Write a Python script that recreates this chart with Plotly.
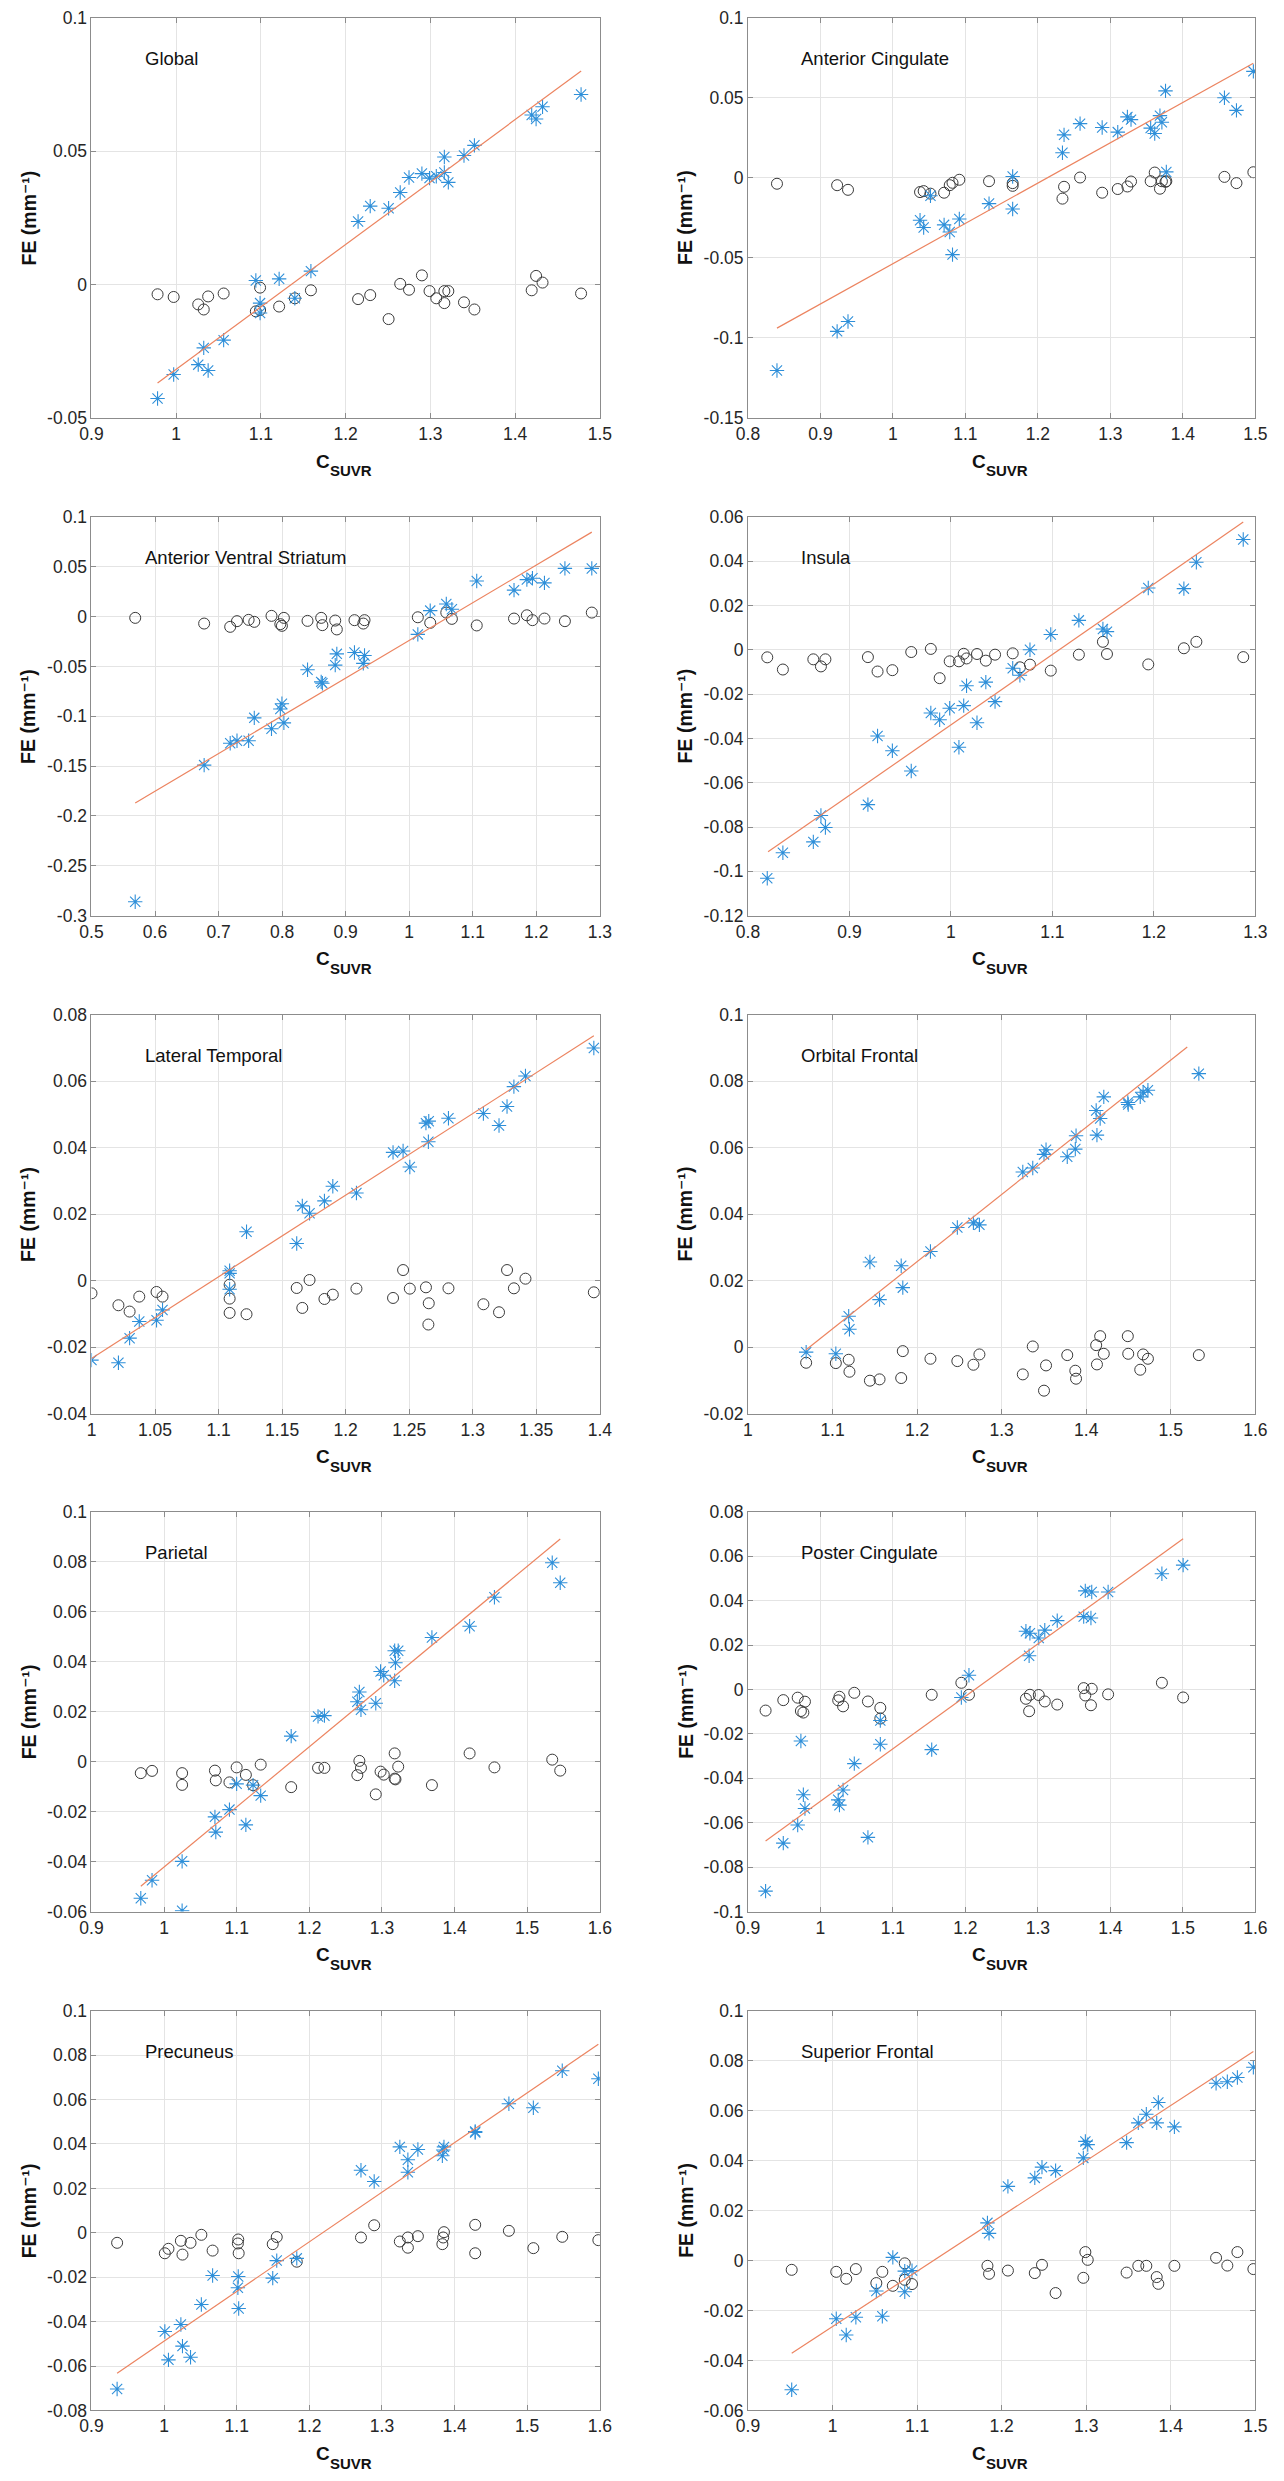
import plotly.graph_objects as go

# ---------------- data ----------------
regions = ["Global", "Anterior Cingulate", "Anterior Ventral Striatum", "Insula",
           "Lateral Temporal", "Orbital Frontal", "Parietal", "Poster Cingulate",
           "Precuneus", "Superior Frontal"]

# Global
global_c = [0.978, 0.997, 1.026, 1.0325, 1.0377, 1.056, 1.094, 1.099, 1.099, 1.1215, 1.140, 1.159, 1.2147, 1.229, 1.2507,
            1.2644, 1.2748, 1.290, 1.299, 1.307, 1.3165, 1.3165, 1.3212, 1.3397, 1.352, 1.4196, 1.4248, 1.4324, 1.4779]
global_fe = [-0.0428, -0.0338, -0.0301, -0.0238, -0.0323, -0.0209, 0.0015, -0.0070, -0.0107, 0.0021, -0.0052, 0.0050, 0.0236,
             0.0294, 0.0286, 0.0345, 0.0401, 0.0416, 0.0399, 0.0406, 0.0478, 0.0420, 0.0383, 0.0484, 0.0522, 0.0636, 0.0621,
             0.0667, 0.0713]
global_fe0 = [-0.0037, -0.0047, -0.0075, -0.0094, -0.0045, -0.0034, -0.0101, -0.0012, -0.0096, -0.0083, -0.0052, -0.0022,
              -0.0055, -0.0040, -0.0130, 0.0002, -0.0020, 0.0034, -0.0025, -0.0052, -0.0070, -0.0025, -0.0025, -0.0067,
              -0.0094, -0.0022, 0.0032, 0.0007, -0.0034]
global_fit_c = [0.978, 1.478]
global_fit_fe = [-0.0370, 0.0801]

# Anterior Cingulate
acing_c = [0.840, 0.923, 0.938, 1.0374, 1.0424, 1.0518, 1.0706, 1.0784, 1.0822, 1.0916, 1.1326, 1.1652, 1.1652, 1.2339,
           1.2361, 1.2582, 1.2887, 1.3102, 1.3235, 1.3285, 1.3556, 1.3612, 1.3684, 1.3711, 1.3761, 1.3772, 1.4574, 1.4740,
           1.4973]
acing_fe = [-0.1205, -0.0960, -0.0898, -0.0265, -0.0311, -0.0112, -0.0294, -0.0339, -0.0480, -0.0257, -0.0161, 0.0008,
            -0.0195, 0.0157, 0.0269, 0.0339, 0.0315, 0.0286, 0.0381, 0.0364, 0.0311, 0.0277, 0.0389, 0.0348, 0.0544,
            0.0037, 0.0501, 0.0422, 0.0666]
acing_fe0 = [-0.0037, -0.0046, -0.0075, -0.0089, -0.0083, -0.0099, -0.0093, -0.0046, -0.0031, -0.0012, -0.0021, -0.0033,
             -0.0050, -0.0130, -0.0056, 0.0002, -0.0093, -0.0070, -0.0054, -0.0023, -0.0021, 0.0033, -0.0068, -0.0021,
             -0.0025, -0.0021, 0.0006, -0.0033, 0.0035]
acing_fit_c = [0.840, 1.4973]
acing_fit_fe = [-0.0940, 0.0716]

# Anterior Ventral Striatum
avs_c = [0.5688, 0.6773, 0.7183, 0.729, 0.7473, 0.7562, 0.7833, 0.7972, 0.7997, 0.8028, 0.840, 0.8615, 0.8634, 0.8836,
         0.8861, 0.9139, 0.9278, 0.9297, 1.0136, 1.0331, 1.0584, 1.0672, 1.1063, 1.165, 1.1852, 1.194, 1.2129, 1.2451,
         1.2874]
avs_fe = [-0.286, -0.149, -0.127, -0.1245, -0.1245, -0.1016, -0.1125, -0.0927, -0.0874, -0.1066, -0.0533, -0.0655,
          -0.0669, -0.0487, -0.0374, -0.0361, -0.0470, -0.0391, -0.0179, 0.0060, 0.0126, 0.0073, 0.0357, 0.0265, 0.0371,
          0.0384, 0.0338, 0.0483, 0.0483]
avs_fe0 = [-0.0013, -0.0070, -0.0103, -0.0046, -0.0033, -0.0053, 0.0007, -0.0076, -0.0093, -0.0013, -0.0043, -0.0013,
           -0.0086, -0.0040, -0.0129, -0.0036, -0.0070, -0.0036, -0.0007, -0.0063, 0.0040, -0.0023, -0.0089, -0.0020,
           0.0013, -0.0036, -0.0020, -0.0046, 0.0040]
avs_fit_c = [0.5688, 1.2874]
avs_fit_fe = [-0.187, 0.0847]

# Insula
insula_c = [0.819, 0.8344, 0.8644, 0.8719, 0.8763, 0.9182, 0.9277, 0.9423, 0.9609, 0.9802, 0.9889, 0.9988, 1.0079, 1.0126,
            1.0154, 1.0257, 1.0344, 1.0435, 1.0609, 1.068, 1.0779, 1.0984, 1.1261, 1.1498, 1.1538, 1.1945, 1.2296, 1.2419,
            1.2881]
insula_fe = [-0.1031, -0.0916, -0.0867, -0.0748, -0.0802, -0.0699, -0.0389, -0.0456, -0.0547, -0.0285, -0.0316, -0.0264,
             -0.0440, -0.0252, -0.0162, -0.0329, -0.0146, -0.0234, -0.0083, -0.0115, 0.0000, 0.0069, 0.0133, 0.0094,
             0.0082, 0.0279, 0.0276, 0.0395, 0.0498]
insula_fe0 = [-0.0034, -0.0089, -0.0043, -0.0075, -0.0043, -0.0033, -0.0098, -0.0092, -0.0010, 0.0004, -0.0128, -0.0052,
              -0.0052, -0.0018, -0.0039, -0.0019, -0.0049, -0.0022, -0.0016, -0.0079, -0.0067, -0.0094, -0.0022, 0.0036,
              -0.0019, -0.0066, 0.0007, 0.0036, -0.0033]
insula_fit_c = [0.8198, 1.2881]
insula_fit_fe = [-0.0912, 0.0577]

# Lateral Temporal
ltemp_c = [1.000, 1.0212, 1.030, 1.0376, 1.0512, 1.0559, 1.1087, 1.1087, 1.1087, 1.122, 1.1615, 1.1659, 1.1716, 1.1833,
           1.1899, 1.2085, 1.2373, 1.2452, 1.2505, 1.2632, 1.2654, 1.2651, 1.2809, 1.3084, 1.3207, 1.327, 1.3324, 1.3415,
           1.3953]
ltemp_fe = [-0.0239, -0.0247, -0.0173, -0.0123, -0.0119, -0.0088, 0.0030, 0.0022, -0.0026, 0.0147, 0.0112, 0.0225, 0.0203,
            0.0240, 0.0284, 0.0264, 0.0386, 0.0390, 0.0342, 0.0474, 0.0480, 0.0418, 0.0489, 0.0503, 0.0467, 0.0524, 0.0584,
            0.0616, 0.0700]
ltemp_fe0 = [-0.0038, -0.0074, -0.0093, -0.0048, -0.0034, -0.0048, -0.0012, -0.0054, -0.0097, -0.0101, -0.0022, -0.0082,
             0.0002, -0.0055, -0.0042, -0.0024, -0.0052, 0.0032, -0.0024, -0.0020, -0.0068, -0.0132, -0.0023, -0.0071,
             -0.0095, 0.0032, -0.0023, 0.0006, -0.0035]
ltemp_fit_c = [1.0, 1.3953]
ltemp_fit_fe = [-0.0234, 0.0737]

# Orbital Frontal
ofront_c = [1.0688, 1.1039, 1.1191, 1.120, 1.1442, 1.1556, 1.1812, 1.1831, 1.2158, 1.2476, 1.2666, 1.2737, 1.325, 1.3368,
            1.3501, 1.3525, 1.3776, 1.3871, 1.388, 1.4127, 1.4118, 1.4165, 1.4208, 1.4492, 1.4497, 1.4639, 1.4673, 1.473,
            1.5332]
ofront_fe = [-0.0015, -0.0020, 0.0093, 0.0054, 0.0256, 0.0143, 0.0245, 0.0179, 0.0288, 0.0360, 0.0374, 0.0368, 0.0527,
             0.0539, 0.0580, 0.0594, 0.0573, 0.0596, 0.0636, 0.0638, 0.0712, 0.0688, 0.0753, 0.0736, 0.0730, 0.0753,
             0.0767, 0.0773, 0.0823]
ofront_fe0 = [-0.0047, -0.0048, -0.0038, -0.0074, -0.0101, -0.0097, -0.0093, -0.0012, -0.0035, -0.0042, -0.0053, -0.0022,
              -0.0082, 0.0002, -0.0131, -0.0055, -0.0024, -0.0071, -0.0095, -0.0052, 0.0006, 0.0033, -0.0020, 0.0033,
              -0.0020, -0.0068, -0.0022, -0.0035, -0.0024]
ofront_fit_c = [1.0688, 1.5195]
ofront_fit_fe = [-0.0008, 0.0903]

# Parietal
pariet_c = [0.9679, 0.9834, 1.0248, 1.0248, 1.070, 1.0712, 1.090, 1.0999, 1.1126, 1.1225, 1.133, 1.175, 1.212, 1.2208,
            1.2661, 1.2689, 1.2711, 1.2915, 1.2981, 1.3025, 1.3175, 1.3224, 1.3186, 1.3175, 1.3688, 1.4207, 1.4549,
            1.5345, 1.5455]
pariet_fe = [-0.0547, -0.0475, -0.0399, -0.0597, -0.0221, -0.0282, -0.0192, -0.0089, -0.0253, -0.0094, -0.0136, 0.0102,
             0.0181, 0.0184, 0.0240, 0.0279, 0.0208, 0.0234, 0.0361, 0.0346, 0.0444, 0.0444, 0.0396, 0.0324, 0.0497,
             0.0542, 0.0658, 0.0796, 0.0716]
pariet_fe0 = [-0.0046, -0.0037, -0.0046, -0.0093, -0.0036, -0.0075, -0.0083, -0.0023, -0.0053, -0.0094, -0.0012, -0.0102,
              -0.0025, -0.0025, -0.0054, 0.0003, -0.0025, -0.0131, -0.0040, -0.0052, -0.0068, -0.0020, -0.0071, 0.0033,
              -0.0094, 0.0033, -0.0023, 0.0008, -0.0036]
pariet_fit_c = [0.9679, 1.5455]
pariet_fit_fe = [-0.0499, 0.0891]

# Poster Cingulate
pcing_c = [0.9243, 0.9487, 0.9686, 0.973, 0.9764, 0.9786, 1.0245, 1.0262, 1.0312, 1.0467, 1.0655, 1.0826, 1.0826, 1.1535,
           1.1944, 1.2049, 1.2835, 1.289, 1.2879, 1.3012, 1.3095, 1.3267, 1.3632, 1.3654, 1.3743, 1.3732, 1.3969, 1.4711,
           1.5004]
pcing_fe = [-0.0908, -0.0692, -0.0610, -0.0232, -0.0474, -0.0536, -0.0497, -0.0521, -0.0453, -0.0334, -0.0666, -0.0140,
            -0.0247, -0.0271, -0.0036, 0.0064, 0.0262, 0.0253, 0.0152, 0.0232, 0.0267, 0.0310, 0.0328, 0.0444, 0.0439,
            0.0322, 0.0439, 0.0521, 0.0560]
pcing_fe0 = [-0.0095, -0.0048, -0.0037, -0.0097, -0.0104, -0.0055, -0.0049, -0.0033, -0.0076, -0.0015, -0.0054, -0.0083,
             -0.0131, -0.0024, 0.0030, -0.0024, -0.0042, -0.0024, -0.0098, -0.0025, -0.0054, -0.0068, 0.0006, -0.0027,
             0.0003, -0.0071, -0.0022, 0.0030, -0.0036]
pcing_fit_c = [0.9243, 1.5004]
pcing_fit_fe = [-0.0682, 0.0679]

# Precuneus
precun_c = [0.9353, 1.001, 1.006, 1.0231, 1.0253, 1.0364, 1.0513, 1.0668, 1.1021, 1.1016, 1.1027, 1.1496, 1.1551, 1.1827,
            1.2711, 1.2893, 1.3246, 1.3357, 1.3357, 1.3495, 1.3832, 1.3843, 1.3854, 1.4284, 1.4284, 1.4748, 1.5085,
            1.5483, 1.598]
precun_fe = [-0.0703, -0.0444, -0.0572, -0.0413, -0.0510, -0.0560, -0.0323, -0.0192, -0.0197, -0.0247, -0.0341, -0.0204,
             -0.0125, -0.0115, 0.0282, 0.0231, 0.0387, 0.0329, 0.0273, 0.0375, 0.0347, 0.0373, 0.0387, 0.0456, 0.0452,
             0.0581, 0.0563, 0.0730, 0.0694]
precun_fe0 = [-0.0045, -0.0092, -0.0072, -0.0036, -0.0098, -0.0045, -0.0009, -0.0080, -0.0030, -0.0048, -0.0092, -0.0051,
              -0.0019, -0.0130, -0.0021, 0.0034, -0.0039, -0.0021, -0.0067, -0.0015, -0.0051, -0.0021, 0.0003, 0.0036,
              -0.0092, 0.0009, -0.0069, -0.0018, -0.0033]
precun_fit_c = [0.9353, 1.598]
precun_fit_fe = [-0.0632, 0.0849]

# Superior Frontal
sfront_c = [0.9517, 1.0044, 1.0162, 1.0276, 1.0518, 1.0589, 1.0713, 1.0854, 1.0854, 1.094, 1.1832, 1.1851, 1.2074, 1.2392,
            1.2477, 1.2638, 1.2966, 1.299, 1.3018, 1.3478, 1.3616, 1.3711, 1.3834, 1.3853, 1.4043, 1.4536, 1.4669,
            1.4788, 1.4977]
sfront_fe = [-0.0517, -0.0233, -0.0298, -0.0227, -0.0122, -0.0223, 0.0013, -0.0042, -0.0125, -0.0040, 0.0151, 0.0109,
             0.0297, 0.0331, 0.0374, 0.0360, 0.0411, 0.0477, 0.0464, 0.0472, 0.0551, 0.0586, 0.0551, 0.0633, 0.0535,
             0.0710, 0.0716, 0.0733, 0.0774]
sfront_fe0 = [-0.0037, -0.0045, -0.0073, -0.0034, -0.0090, -0.0045, -0.0101, -0.0011, -0.0077, -0.0094, -0.0021, -0.0053,
              -0.0040, -0.0050, -0.0017, -0.0130, -0.0069, 0.0034, 0.0003, -0.0048, -0.0021, -0.0021, -0.0066, -0.0093,
              -0.0021, 0.0011, -0.0020, 0.0034, -0.0034]
sfront_fit_c = [0.9517, 1.4977]
sfront_fit_fe = [-0.0371, 0.0837]

# axis tick values (tick labels)
x_ticks = [
    [0.9, 1.0, 1.1, 1.2, 1.3, 1.4, 1.5],
    [0.8, 0.9, 1.0, 1.1, 1.2, 1.3, 1.4, 1.5],
    [0.5, 0.6, 0.7, 0.8, 0.9, 1.0, 1.1, 1.2, 1.3],
    [0.8, 0.9, 1.0, 1.1, 1.2, 1.3],
    [1.0, 1.05, 1.1, 1.15, 1.2, 1.25, 1.3, 1.35, 1.4],
    [1.0, 1.1, 1.2, 1.3, 1.4, 1.5, 1.6],
    [0.9, 1.0, 1.1, 1.2, 1.3, 1.4, 1.5, 1.6],
    [0.9, 1.0, 1.1, 1.2, 1.3, 1.4, 1.5, 1.6],
    [0.9, 1.0, 1.1, 1.2, 1.3, 1.4, 1.5, 1.6],
    [0.9, 1.0, 1.1, 1.2, 1.3, 1.4, 1.5],
]
y_ticks = [
    [-0.05, 0.0, 0.05, 0.1],
    [-0.15, -0.1, -0.05, 0.0, 0.05, 0.1],
    [-0.3, -0.25, -0.2, -0.15, -0.1, -0.05, 0.0, 0.05, 0.1],
    [-0.12, -0.1, -0.08, -0.06, -0.04, -0.02, 0.0, 0.02, 0.04, 0.06],
    [-0.04, -0.02, 0.0, 0.02, 0.04, 0.06, 0.08],
    [-0.02, 0.0, 0.02, 0.04, 0.06, 0.08, 0.1],
    [-0.06, -0.04, -0.02, 0.0, 0.02, 0.04, 0.06, 0.08, 0.1],
    [-0.1, -0.08, -0.06, -0.04, -0.02, 0.0, 0.02, 0.04, 0.06, 0.08],
    [-0.08, -0.06, -0.04, -0.02, 0.0, 0.02, 0.04, 0.06, 0.08, 0.1],
    [-0.06, -0.04, -0.02, 0.0, 0.02, 0.04, 0.06, 0.08, 0.1],
]

panels = [
    (global_c, global_fe, global_fe0, global_fit_c, global_fit_fe),
    (acing_c, acing_fe, acing_fe0, acing_fit_c, acing_fit_fe),
    (avs_c, avs_fe, avs_fe0, avs_fit_c, avs_fit_fe),
    (insula_c, insula_fe, insula_fe0, insula_fit_c, insula_fit_fe),
    (ltemp_c, ltemp_fe, ltemp_fe0, ltemp_fit_c, ltemp_fit_fe),
    (ofront_c, ofront_fe, ofront_fe0, ofront_fit_c, ofront_fit_fe),
    (pariet_c, pariet_fe, pariet_fe0, pariet_fit_c, pariet_fit_fe),
    (pcing_c, pcing_fe, pcing_fe0, pcing_fit_c, pcing_fit_fe),
    (precun_c, precun_fe, precun_fe0, precun_fit_c, precun_fit_fe),
    (sfront_c, sfront_fe, sfront_fe0, sfront_fit_c, sfront_fit_fe),
]

y_title = "FE (mm\u207b\u00b9)"
x_title_main, x_title_sub = "C", "SUVR"

# ---------------- layout / style ----------------
W, H = 1284, 2481
col_px = [(81, 599), (750, 1267)]
row_px = [(8, 411), (511, 913), (1013, 1415), (1514, 1917), (2017, 2420)]

FONT = "Liberation Sans, Arial, Helvetica, DejaVu Sans, sans-serif"
TXT = "#262626"
BLUE = "#2e8fd9"
CIRC = "#3a3a3a"
FIT = "#ec8460"
AXC = "#8c8c8c"
GRID = "#e4e4e4"


def fmt(v):
    s = f"{round(v, 6):g}"
    return "0" if s in ("-0", "0") else s


fig = go.Figure()
layout = dict(width=W, height=H, margin=dict(l=0, r=0, t=0, b=0),
              paper_bgcolor="white", plot_bgcolor="white", showlegend=False,
              font=dict(family=FONT, size=17.5, color=TXT))
annotations = []

for i, (c, fe, fe0, fc, ff) in enumerate(panels):
    r, k = divmod(i, 2)
    n = i + 1
    xs = "" if n == 1 else str(n)
    x0, x1 = col_px[k]
    t0, t1 = row_px[r]
    xt, yt = x_ticks[i], y_ticks[i]
    common = dict(showline=True, linecolor=AXC, linewidth=1, mirror="ticks",
                  ticks="inside", ticklen=5, tickwidth=1, tickcolor=AXC,
                  showgrid=True, gridcolor=GRID, gridwidth=1, zeroline=False,
                  tickfont=dict(family=FONT, size=17.5, color=TXT))
    layout["xaxis" + xs] = dict(domain=[x0 / W, x1 / W], anchor="y" + xs,
                                range=[xt[0], xt[-1]], tickmode="array",
                                tickvals=xt, ticktext=[fmt(v) for v in xt], **common)
    layout["yaxis" + xs] = dict(domain=[1 - t1 / H, 1 - t0 / H], anchor="x" + xs,
                                range=[yt[0], yt[-1]], tickmode="array",
                                tickvals=yt, ticktext=[fmt(v) for v in yt], **common)

    fig.add_trace(go.Scatter(x=c, y=fe0, mode="markers", xaxis="x" + xs, yaxis="y" + xs,
                             marker=dict(symbol="circle-open", size=11, color=CIRC,
                                         line=dict(width=1, color=CIRC))))
    fig.add_trace(go.Scatter(x=c, y=fe, mode="markers", xaxis="x" + xs, yaxis="y" + xs,
                             marker=dict(symbol="asterisk-open", size=12, color=BLUE,
                                         line=dict(width=1.1, color=BLUE))))
    fig.add_trace(go.Scatter(x=fc, y=ff, mode="lines", xaxis="x" + xs, yaxis="y" + xs,
                             line=dict(color=FIT, width=1.2)))

    # region label
    annotations.append(dict(text=regions[i], xref=f"x{xs} domain", yref=f"y{xs} domain",
                            x=52 / (x1 - x0), y=1 - 41 / (t1 - t0), xanchor="left", yanchor="middle",
                            showarrow=False, font=dict(family=FONT, size=18.5, color="#111")))
    # y title
    annotations.append(dict(text=f"<b>{y_title}</b>", xref="paper", yref=f"y{xs} domain",
                            x=(x0 - 64) / W, y=0.5, xanchor="center", yanchor="middle",
                            textangle=-90, showarrow=False, borderpad=0, borderwidth=0,
                            font=dict(family=FONT, size=19.5, color="#111")))
    # x title: main letter + subscript drawn as two texts
    annotations.append(dict(text=f"<b>{x_title_main}</b>", xref=f"x{xs} domain", yref="paper",
                            x=0.5, xshift=-15.5, y=1 - (t1 + 43.7) / H,
                            xanchor="right", yanchor="middle", showarrow=False,
                            borderpad=0, borderwidth=0,
                            font=dict(family=FONT, size=19, color="#111")))
    annotations.append(dict(text=f"<b>{x_title_sub}</b>", xref=f"x{xs} domain", yref="paper",
                            x=0.5, xshift=-15.5, y=1 - (t1 + 53.4) / H,
                            xanchor="left", yanchor="middle", showarrow=False,
                            borderpad=0, borderwidth=0,
                            font=dict(family=FONT, size=15, color="#111")))

layout["annotations"] = annotations
fig.update_layout(**layout)

fig.write_html("out.html", config={"displayModeBar": False},
               post_script="document.body.style.margin='0';")
